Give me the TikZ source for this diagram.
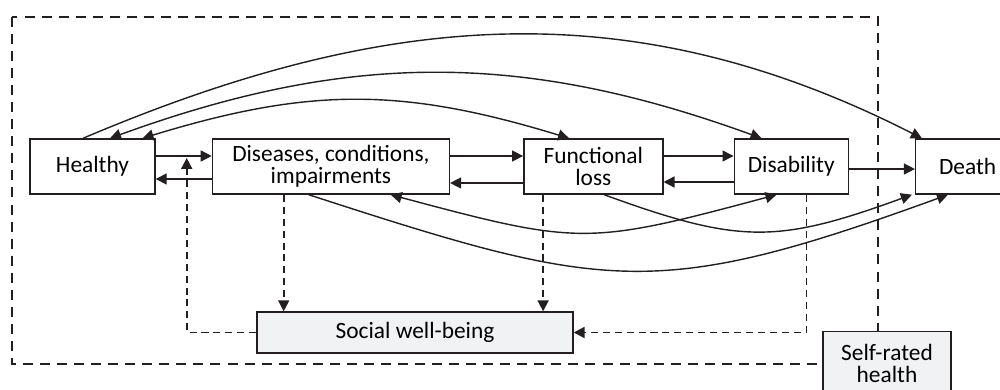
\documentclass[tikz,border=0pt]{standalone}
\usepackage{fontspec}
\setmainfont{Carlito}
\usepackage{tikz}
\usetikzlibrary{positioning,arrows.meta}
\definecolor{ink}{RGB}{35,31,32}
\definecolor{boxgray}{RGB}{241,242,244}
\tikzstyle{state} = [draw=ink, line width=0.8pt, align=center, minimum height=1.1cm, inner sep=1pt]
\tikzstyle{arrow} = [ink, line width=0.8pt, -{Triangle[length=2.2mm,width=2.2mm]}]
\tikzstyle{twoway} = [ink, line width=0.8pt, {Triangle[length=2.2mm,width=2.2mm]}-{Triangle[length=2.2mm,width=2.2mm]}]
\tikzstyle{dasharrow} = [arrow, line width=1.1pt, dash pattern=on 4pt off 2.8pt]

\begin{document}
\begin{tikzpicture}[font=\fontsize{13.3}{12.5}\selectfont]
	\useasboundingbox (0,0) rectangle (20,-7.8);
	% self-rated health frame
	\draw[ink, line width=1.6pt, dash pattern=on 5.7pt off 4pt] (0.24,-0.34) rectangle (17.56,-7.28);
	\node[state, minimum width=2.5cm] (healthy) at (1.85,-3.33) {Healthy};
	\node[state, minimum width=4.74cm, right=1.12cm of healthy] (diseases) {Diseases, conditions,\\impairments};
	\node[state, minimum width=2.78cm, right=1.46cm of diseases] (functional) {Functional\\loss};
	\node[state, minimum width=2.28cm, right=1.4cm of functional] (disability) {Disability};
	\node[state, minimum width=2.08cm, right=1.32cm of disability] (death) {Death};
	\node[state, fill=boxgray, minimum width=6.32cm, minimum height=0.82cm] (social) at (8.3,-6.65) {Social well-being};
	\node[state, fill=boxgray, minimum width=2.56cm, minimum height=1.28cm, anchor=north] (selfrated) at (17.74,-6.62) {Self-rated\\health};
	% transitions between neighbours
	\draw[arrow] ([yshift=0.21cm]healthy.east) -- ([yshift=0.21cm]diseases.west);
	\draw[arrow] ([yshift=-0.25cm]diseases.west) -- ([yshift=-0.25cm]healthy.east);
	\draw[arrow] ([yshift=0.21cm]diseases.east) -- ([yshift=0.21cm]functional.west);
	\draw[arrow] ([yshift=-0.33cm]functional.west) -- ([yshift=-0.33cm]diseases.east);
	\draw[arrow] ([yshift=0.21cm]functional.east) -- ([yshift=0.21cm]disability.west);
	\draw[arrow] ([yshift=-0.31cm]disability.west) -- ([yshift=-0.31cm]functional.east);
	\draw[arrow] ([yshift=-0.05cm]disability.east) -- ([yshift=-0.05cm]death.west);
	% long jumps
	\draw[arrow] ([xshift=-0.19cm]healthy.north) to [out=23, in=153] ([xshift=0.14cm]death.north west);
	\draw[twoway] ([xshift=0.35cm]healthy.north) to [out=20, in=160] ([xshift=0.56cm]disability.north west);
	\draw[twoway] ([xshift=1.0cm]healthy.north) to [out=17, in=163, looseness=1.05] ([xshift=0.92cm]functional.north west);
	\draw[twoway] ([xshift=3.58cm]diseases.south west) to [out=-15, in=-165, looseness=1.3] ([xshift=0.86cm]disability.south west);
	\draw[arrow] ([xshift=1.94cm]diseases.south west) to [out=-18, in=-160, looseness=1.25] ([xshift=0.66cm]death.south west);
	\draw[arrow] ([xshift=1.62cm]functional.south west) to [out=-20, in=-160, looseness=1.2] ([xshift=-0.06cm]death.south west);
	% social well-being
	\coordinate (dd) at ([xshift=1.44cm]diseases.south west);
	\coordinate (fd) at ([xshift=0.4cm]functional.south west);
	\coordinate (bd) at ([xshift=1.46cm]disability.south west);
	\coordinate (hd) at ([xshift=0.62cm, yshift=0.17cm]healthy.east);
	\draw[dasharrow] (dd) -- (dd |- social.north);
	\draw[dasharrow] (fd) -- (fd |- social.north);
	\draw[dasharrow] (bd) |- (social.east);
	\draw[dasharrow] (social.west) -| (hd);
\end{tikzpicture}
\end{document}
